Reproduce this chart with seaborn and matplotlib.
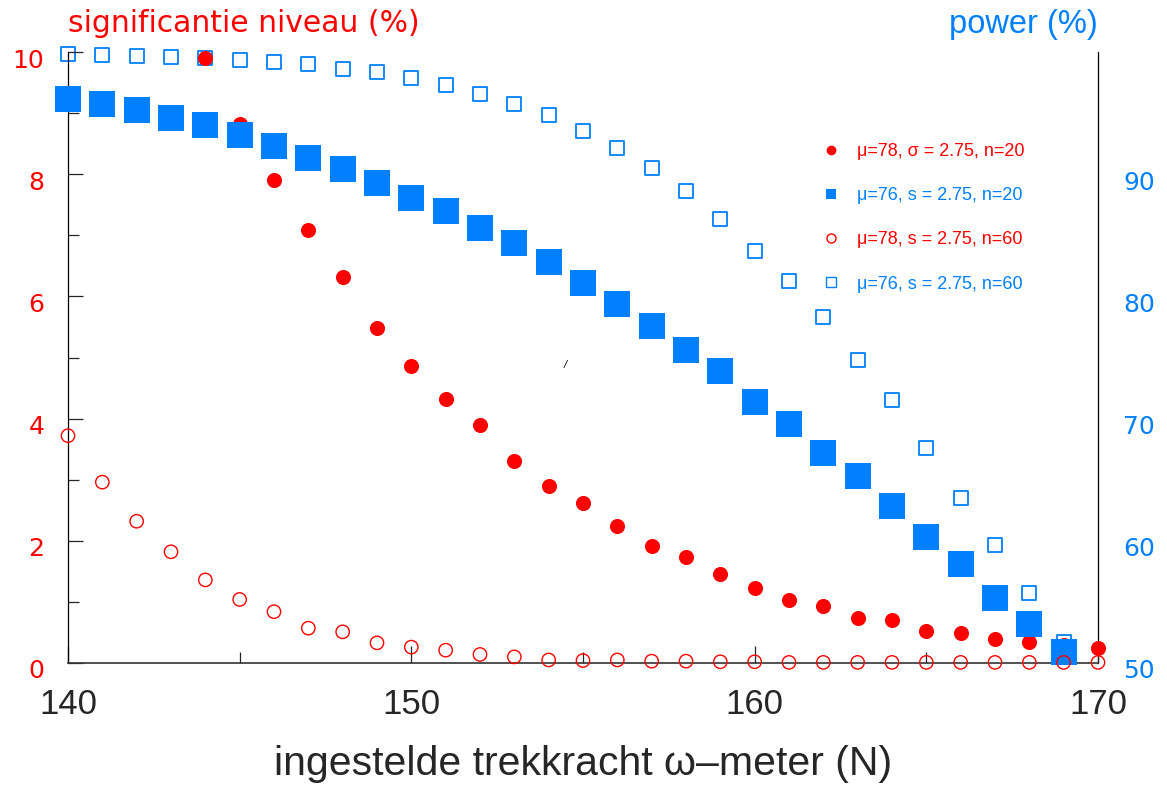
import numpy as np
import matplotlib
matplotlib.use("Agg")
import matplotlib.pyplot as plt
from matplotlib.lines import Line2D
from matplotlib.transforms import ScaledTranslation
import seaborn as sns

# ---------------- data ----------------
force = list(range(140, 171))  # ingestelde trekkracht (N)

sig_n20 = [np.nan, np.nan, np.nan, np.nan, 9.90, 8.82, 7.90, 7.08, 6.32, 5.49,
           4.86, 4.32, 3.89, 3.31, 2.89, 2.62, 2.25, 1.91, 1.74, 1.46,
           1.22, 1.03, 0.93, 0.74, 0.70, 0.52, 0.49, 0.40, 0.34, 0.30, 0.24]

sig_n60 = [3.72, 2.96, 2.32, 1.82, 1.36, 1.04, 0.84, 0.57, 0.51, 0.33,
           0.26, 0.21, 0.14, 0.10, 0.05, 0.04, 0.05, 0.03, 0.03, 0.02,
           0.02, 0.01, 0.01, 0.01, 0.01, 0.01, 0.01, 0.01, 0.01, 0.01, 0.01]

power_n20 = [96.15, 95.77, 95.23, 94.57, 94.0, 93.18, 92.33, 91.35, 90.45, 89.3,
             88.03, 86.96, 85.62, 84.35, 82.79, 81.1, 79.35, 77.55, 75.64, 73.88,
             71.38, 69.53, 67.18, 65.33, 62.87, 60.34, 58.14, 55.36, 53.17, 50.88, np.nan]

power_n60 = [99.84, 99.75, 99.7, 99.62, 99.51, 99.35, 99.18, 98.99, 98.63, 98.34,
             97.87, 97.33, 96.56, 95.74, 94.84, 93.53, 92.12, 90.48, 88.63, 86.33,
             83.74, 81.28, 78.28, 74.8, 71.52, 67.62, 63.48, 59.66, 55.75, 51.7, np.nan]

x_ticks = [140, 150, 160, 170]
sig_ticks = [0, 2, 4, 6, 8, 10]
power_ticks = [50, 60, 70, 80, 90]

labels = ["μ=78, σ = 2.75, n=20", "μ=76, s = 2.75, n=20",
          "μ=78, s = 2.75, n=60", "μ=76, s = 2.75, n=60"]

RED = "#FF0000"
BLUE = "#0080FF"

# ---------------- style ----------------
sns.set_style("white")
plt.rcParams["font.family"] = ["Liberation Sans", "DejaVu Sans"]
GEO = ["DejaVu Sans"]

W, H = 1167, 789
fig = plt.figure(figsize=(W / 100, H / 100), dpi=100)
rect = [68 / W, 1 - 663 / H, (1098 - 68) / W, (663 - 52) / H]

SIG_LIM = (0, 10)
POW_LIM = (50, 100)

axp = fig.add_axes(rect, zorder=1)                 # power, open squares
ax = fig.add_axes(rect, zorder=2, sharex=axp)      # significance, red dots
axp2 = fig.add_axes(rect, zorder=3, sharex=axp)    # power, filled squares
ax2 = fig.add_axes(rect, zorder=4, sharex=axp)     # significance, open circles

for a in (axp, ax, axp2, ax2):
    a.patch.set_visible(False)
    a.set_xlim(140, 170)
for a in (ax, ax2):
    a.set_ylim(*SIG_LIM)
for a in (axp, axp2):
    a.set_ylim(*POW_LIM)

sns.scatterplot(x=force, y=power_n60, ax=axp, marker="s", s=100,
                facecolors="none", edgecolors=BLUE, linewidth=1.3,
                clip_on=False, legend=False)
sns.scatterplot(x=force, y=sig_n20, ax=ax, marker="o", s=118,
                color=RED, linewidth=0, clip_on=False, legend=False)
sns.scatterplot(x=force, y=power_n20, ax=axp2, marker="s", s=360,
                color=BLUE, linewidth=0, clip_on=False, legend=False)
sns.scatterplot(x=force, y=sig_n60, ax=ax2, marker="o", s=92,
                facecolors="none", edgecolors=RED, linewidth=1.0,
                clip_on=False, legend=False)

axp2.set_axis_off()
ax2.set_axis_off()

shift = ScaledTranslation(0, -6 / 100, fig.dpi_scale_trans)

# power axis (right)
for s in ("left", "top", "bottom"):
    axp.spines[s].set_visible(False)
axp.spines["right"].set_color("black")
axp.spines["right"].set_linewidth(0.9)
axp.yaxis.tick_right()
axp.set_yticks(power_ticks)
axp.tick_params(axis="y", which="both", length=0, pad=18, labelsize=18,
                labelcolor=BLUE)
axp.tick_params(axis="x", which="both", bottom=False, labelbottom=False)
for t in axp.get_yticklabels():
    t.set_fontfamily(GEO)
    t.set_transform(t.get_transform() + shift)

# significance axis (left) + x axis
ax.spines["top"].set_visible(False)
ax.spines["right"].set_visible(False)
ax.spines["left"].set_color("black")
ax.spines["bottom"].set_color("#333333")
ax.spines["left"].set_linewidth(0.9)
ax.spines["bottom"].set_linewidth(1.2)
ax.set_yticks(sig_ticks)
ax.set_yticks([1, 3, 5, 7, 9], minor=True)
ax.set_xticks(x_ticks)
ax.set_xticks([145, 155, 165], minor=True)
ax.tick_params(axis="y", which="major", direction="in", length=11, width=0.9,
               pad=17, labelsize=18, labelcolor=RED, left=True)
ax.tick_params(axis="y", which="minor", direction="in", length=8, width=0.9,
               left=True)
ax.tick_params(axis="x", which="major", direction="in", length=12, width=0.9,
               pad=18, bottom=True, labelsize=25)
ax.tick_params(axis="x", which="minor", direction="in", length=8, width=0.9,
               bottom=True)
for t in ax.get_yticklabels():
    t.set_fontfamily(GEO)
    t.set_transform(t.get_transform() + shift)
ax.set_xlabel("ingestelde trekkracht ω–meter (N)", fontsize=29.5, labelpad=17)
ax.set_ylabel("")
axp.set_ylabel("")
axp.set_xlabel("")

# axis titles
fig.text(68 / W, 1 - 24 / H, "significantie niveau (%)", color=RED,
         fontsize=21.5, ha="left", va="center", family=GEO)
fig.text(1098 / W, 1 - 24 / H, "power (%)", color=BLUE,
         fontsize=23.5, ha="right", va="center")

# small stray mark in the plot
ax.text(154.48, 4.88, "/", fontsize=8, ha="center", va="center",
        style="italic", color="black")

# legend
handles = [
    Line2D([], [], linestyle="none", marker="o", markersize=7,
           markerfacecolor=RED, markeredgewidth=0),
    Line2D([], [], linestyle="none", marker="s", markersize=7,
           markerfacecolor=BLUE, markeredgewidth=0),
    Line2D([], [], linestyle="none", marker="o", markersize=6.5,
           markerfacecolor="none", markeredgecolor=RED, markeredgewidth=1.0),
    Line2D([], [], linestyle="none", marker="s", markersize=6.5,
           markerfacecolor="none", markeredgecolor=BLUE, markeredgewidth=1.0),
]
leg = ax2.legend(handles, labels, loc="upper left",
                 bbox_to_anchor=(806 / W, 1 - 127 / H),
                 bbox_transform=fig.transFigure, frameon=False,
                 labelcolor=[RED, BLUE, RED, BLUE],
                 prop={"size": 13},
                 labelspacing=1.5, handlelength=1.0, handletextpad=0.9)

fig.savefig("out.png", dpi=100)
